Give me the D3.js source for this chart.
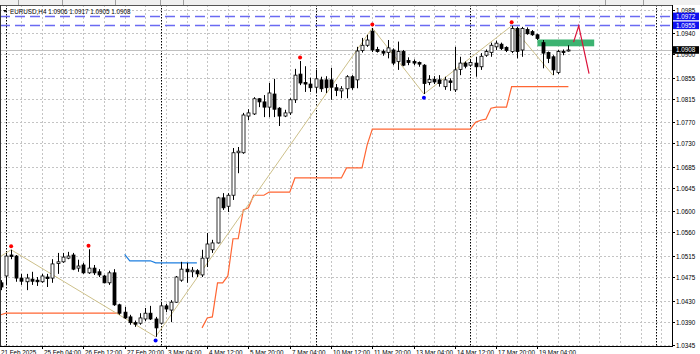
<!DOCTYPE html>
<html><head><meta charset="utf-8">
<script src="https://cdn.jsdelivr.net/npm/d3@7"></script>
<style>html,body{margin:0;padding:0;background:#fff;overflow:hidden}</style>
</head><body>
<svg id="c" width="700" height="354"></svg>
<script>
const symbolTitle = "EURUSD,H4";
const lastOHLC = ["1.0906","1.0917","1.0905","1.0908"];
const bidPrice = 1.0908;

const opens = [1.0464,1.0477,1.0517,1.0515,1.0473,1.0466,1.0471,1.0469,1.0466,1.0475,
1.0473,1.0501,1.0504,1.0511,1.0517,1.0492,1.0498,1.0483,1.0492,1.0485,
1.0477,1.0464,1.0483,1.0422,1.0408,1.0399,1.0388,1.0387,1.0395,1.0406,
1.0395,1.0387,1.0420,1.0412,1.0427,1.0469,1.0490,1.0485,1.0487,1.0479,
1.0511,1.0527,1.0540,1.0626,1.0610,1.0631,1.0712,1.0712,1.0782,1.0786,
1.0815,1.0809,1.0799,1.0824,1.0797,1.0782,1.0788,1.0813,1.0862,1.0846,
1.0843,1.0837,1.0851,1.0851,1.0851,1.0836,1.0830,1.0834,1.0857,1.0851,
1.0907,1.0917,1.0944,1.0909,1.0905,1.0903,1.0908,1.0886,1.0905,1.0888,
1.0886,1.0884,1.0879,1.0846,1.0852,1.0851,1.0838,1.0849,1.0832,1.0871,
1.0883,1.0879,1.0883,1.0876,1.0898,1.0903,1.0914,1.0919,1.0913,1.0905,
1.0949,1.0908,1.0947,1.0943,1.0937,1.0922,1.0903,1.0895,1.0865,1.0905,1.0906];
const highs = [1.0469,1.0521,1.0527,1.0517,1.0481,1.0481,1.0485,1.0475,1.0481,1.0481,
1.0509,1.0521,1.0521,1.0523,1.0521,1.0508,1.0502,1.0528,1.0498,1.0490,
1.0479,1.0487,1.0490,1.0424,1.0418,1.0403,1.0392,1.0406,1.0416,1.0420,
1.0399,1.0426,1.0424,1.0431,1.0477,1.0504,1.0502,1.0494,1.0490,1.0527,
1.0559,1.0546,1.0628,1.0635,1.0635,1.0721,1.0723,1.0788,1.0795,1.0818,
1.0816,1.0822,1.0845,1.0853,1.0799,1.0794,1.0816,1.0872,1.0887,1.0877,
1.0855,1.0870,1.0857,1.0858,1.0874,1.0843,1.0839,1.0860,1.0860,1.0914,
1.0931,1.0937,1.0950,1.0914,1.0909,1.0927,1.0911,1.0924,1.0908,1.0894,
1.0890,1.0886,1.0881,1.0860,1.0858,1.0860,1.0857,1.0854,1.0914,1.0895,
1.0886,1.0889,1.0895,1.0902,1.0909,1.0922,1.0926,1.0922,1.0915,1.0954,
1.0952,1.0952,1.0951,1.0946,1.0939,1.0927,1.0905,1.0898,1.0908,1.0909,1.0917];
const lows = [1.0450,1.0460,1.0509,1.0466,1.0460,1.0450,1.0460,1.0458,1.0464,1.0456,
1.0464,1.0481,1.0502,1.0509,1.0488,1.0485,1.0481,1.0481,1.0479,1.0475,
1.0463,1.0460,1.0420,1.0403,1.0395,1.0384,1.0380,1.0384,1.0391,1.0393,
1.0361,1.0385,1.0408,1.0389,1.0426,1.0466,1.0464,1.0475,1.0475,1.0475,
1.0494,1.0521,1.0539,1.0603,1.0599,1.0622,1.0673,1.0710,1.0774,1.0784,
1.0799,1.0780,1.0780,1.0780,1.0763,1.0780,1.0784,1.0807,1.0841,1.0828,
1.0828,1.0826,1.0828,1.0826,1.0813,1.0820,1.0816,1.0816,1.0832,1.0835,
1.0903,1.0914,1.0904,1.0903,1.0897,1.0892,1.0879,1.0870,1.0877,1.0879,
1.0879,1.0876,1.0824,1.0841,1.0843,1.0838,1.0832,1.0830,1.0828,1.0860,
1.0873,1.0876,1.0857,1.0870,1.0895,1.0895,1.0908,1.0908,1.0904,1.0902,
1.0892,1.0895,1.0937,1.0935,1.0927,1.0873,1.0883,1.0860,1.0862,1.0898,1.0905];
const closes = [1.0456,1.0515,1.0514,1.0473,1.0467,1.0473,1.0467,1.0466,1.0477,1.0472,
1.0500,1.0504,1.0513,1.0515,1.0490,1.0496,1.0483,1.0492,1.0483,1.0479,
1.0464,1.0483,1.0422,1.0406,1.0397,1.0388,1.0385,1.0397,1.0406,1.0395,
1.0378,1.0420,1.0414,1.0427,1.0475,1.0490,1.0485,1.0488,1.0481,1.0511,
1.0538,1.0540,1.0626,1.0607,1.0631,1.0712,1.0715,1.0784,1.0788,1.0815,
1.0809,1.0799,1.0826,1.0795,1.0782,1.0788,1.0813,1.0860,1.0845,1.0843,
1.0836,1.0853,1.0834,1.0836,1.0837,1.0831,1.0834,1.0857,1.0836,1.0906,
1.0917,1.0927,1.0908,1.0905,1.0902,1.0912,1.0883,1.0905,1.0879,1.0884,
1.0883,1.0881,1.0844,1.0852,1.0847,1.0844,1.0851,1.0846,1.0870,1.0883,
1.0877,1.0884,1.0876,1.0896,1.0905,1.0917,1.0921,1.0911,1.0907,1.0949,
1.0905,1.0949,1.0939,1.0937,1.0930,1.0902,1.0892,1.0870,1.0905,1.0903,1.0908];

const priceTicks = [1.0345,1.0390,1.0430,1.0475,1.0515,1.0560,1.0600,1.0645,1.0685,1.0730,1.0770,1.0815,1.0855,1.0900,1.0940,1.0985];
const timeLabels = ["21 Feb 2025","25 Feb 04:00","26 Feb 12:00","27 Feb 20:00","3 Mar 04:00","4 Mar 12:00","5 Mar 20:00","7 Mar 04:00","10 Mar 12:00","11 Mar 20:00","13 Mar 04:00","14 Mar 12:00","17 Mar 20:00","19 Mar 04:00"];
const timeLabelBars = [0,8,16,24,32,40,48,56,64,72,80,88,96,104];
const separatorBars = [1,31,61,91,127];

const zigzagBars = [-6,2,30,72,82,99,107];
const zigzagPrices = [1.0477,1.0527,1.0361,1.0950,1.0824,1.0954,1.0860];
const fractalUpBars = [2,17,58,72,99];
const fractalDownBars = [30,82];

const supportStart1 = 0;
const supportValues1 = [1.0403,1.0406,1.0406,1.0406,1.0406,1.0406,1.0406,1.0406,1.0406,1.0406,1.0406,1.0406,1.0406,1.0406,1.0406,1.0406,1.0406,1.0406,1.0406,1.0406,1.0406,1.0406,1.0406,1.0406];
const resistStart = 24;
const resistValues = [1.0518,1.0506,1.0506,1.0506,1.0506,1.0506,1.0502,1.0502,1.0502,1.0502,1.0502,1.0502,1.0502,1.0502,1.0502];
const supportStart2 = 39;
const supportValues2 = [1.0378,1.0397,1.0399,1.0464,1.0464,1.0477,1.0548,1.0548,1.0603,1.0607,1.0631,1.0631,1.0631,
1.0637,1.0637,1.0637,1.0637,1.0637,
1.0664,1.0664,1.0664,1.0664,1.0664,1.0664,1.0664,1.0664,1.0664,1.0664,
1.0683,1.0683,1.0683,1.0683,1.0727,
1.0757,1.0757,1.0757,1.0757,1.0757,1.0757,1.0757,1.0757,1.0757,1.0757,1.0757,1.0757,1.0757,1.0757,1.0757,1.0757,1.0757,1.0757,1.0757,1.0757,
1.0770,1.0774,1.0776,1.0797,1.0799,1.0799,1.0799,
1.0838,1.0838,1.0838,1.0838,1.0838,1.0838,1.0838,1.0838,1.0838,1.0838,1.0838,1.0838];

const hLinePrices = [1.0972,1.0955];
const rectBars = [104,115];
const rectPrices = [1.0915,1.0928];
const arrowBars = [111,112,114];
const arrowPrices = [1.0923,1.0954,1.0863];

const W = 700, H = 354;
const plotL = 0, plotR = 672, plotT = 5, plotB = 346;
const font = "'Liberation Sans', Arial, sans-serif";

const x = d3.scaleLinear().domain([0, 130]).range([0.8, 0.8 + 130*5.16]);
const y = d3.scaleLinear().domain([1.0345, 1.0985]).range([345.2, 9.6]);

const svg = d3.select("#c");
svg.append("rect").attr("width",W).attr("height",H).attr("fill","#fff");
svg.append("rect").attr("x",0).attr("y",0).attr("width",W).attr("height",5).attr("fill","#f0f0f0");
[18,62,115,160,183,605,643].forEach(v=>svg.append("line").attr("x1",v+0.5).attr("x2",v+0.5).attr("y1",0).attr("y2",5).attr("stroke","#a0a0a0"));

const defs = svg.append("defs");
defs.append("clipPath").attr("id","plot").append("rect").attr("x",plotL).attr("y",plotT).attr("width",plotR-plotL).attr("height",plotB-plotT);
const g = svg.append("g").attr("clip-path","url(#plot)");

priceTicks.forEach(p=>{
  const yy = Math.round(y(p))+0.5;
  g.append("line").attr("x1",plotL).attr("x2",plotR).attr("y1",yy).attr("y2",yy)
   .attr("stroke","#c4c4c4").attr("stroke-dasharray","2,2");
});
for(let k=4;k<=130;k+=4){
  const xx = Math.round(x(k))+0.5;
  g.append("line").attr("x1",xx).attr("x2",xx).attr("y1",plotT).attr("y2",plotB)
   .attr("stroke","#c4c4c4").attr("stroke-dasharray","2,2");
}
separatorBars.forEach(k=>{
  const xx = Math.round(x(k))+0.5;
  g.append("line").attr("x1",xx).attr("x2",xx).attr("y1",plotT).attr("y2",plotB)
   .attr("stroke","#000").attr("stroke-dasharray","1.5,1.5");
});
g.append("line").attr("x1",plotL).attr("x2",plotR).attr("y1",Math.round(y(bidPrice))+0.5).attr("y2",Math.round(y(bidPrice))+0.5).attr("stroke","#c0c0c0");
hLinePrices.forEach(p=>{
  const yy = Math.round(y(p))+0.5;
  g.append("line").attr("x1",plotL).attr("x2",plotR).attr("y1",yy).attr("y2",yy)
   .attr("stroke","#6a6af2").attr("stroke-width",1.3).attr("stroke-dasharray","10,5");
});
g.append("rect").attr("x",x(rectBars[0])).attr("width",x(rectBars[1])-x(rectBars[0]))
 .attr("y",y(rectPrices[1])).attr("height",y(rectPrices[0])-y(rectPrices[1])).attr("fill","#3cb371");

const lineGen = d3.line().x(d=>x(d[0])).y(d=>y(d[1]));
const s1 = supportValues1.map((v,i)=>[supportStart1+i,v]);
const r1 = resistValues.map((v,i)=>[resistStart+i,v]);
const s2 = supportValues2.map((v,i)=>[supportStart2+i,v]);
g.append("path").attr("d",lineGen(s1)).attr("fill","none").attr("stroke","#ff6633").attr("stroke-width",1.2);
g.append("path").attr("d",lineGen(s2)).attr("fill","none").attr("stroke","#ff6633").attr("stroke-width",1.2);
g.append("path").attr("d",lineGen(r1)).attr("fill","none").attr("stroke","#1e7fe0").attr("stroke-width",1.2);

const zz = zigzagBars.map((b,i)=>[b,zigzagPrices[i]]);
g.append("path").attr("d",lineGen(zz)).attr("fill","none").attr("stroke","#cdc08a").attr("stroke-width",1);

const bars = d3.range(opens.length).map(i=>({i,o:opens[i],h:highs[i],l:lows[i],c:closes[i]}));
const cg = g.append("g");
bars.forEach(b=>{
  const cx = Math.round(x(b.i))+0.5;
  cg.append("line").attr("x1",cx).attr("x2",cx).attr("y1",y(b.h)).attr("y2",y(b.l)).attr("stroke","#000");
  const top = y(Math.max(b.o,b.c)), bot = y(Math.min(b.o,b.c));
  const bull = b.c >= b.o;
  cg.append("rect").attr("x",cx-1.5).attr("width",3).attr("y",top).attr("height",Math.max(0.8,bot-top))
    .attr("fill",bull?"#fff":"#000").attr("stroke","#000").attr("stroke-width",0.8);
});

fractalUpBars.forEach(k=>{
  g.append("circle").attr("cx",x(k)).attr("cy",y(highs[k])-3.5).attr("r",2).attr("fill","#ff0000");
});
fractalDownBars.forEach(k=>{
  g.append("circle").attr("cx",x(k)).attr("cy",y(lows[k])+3.8).attr("r",2).attr("fill","#0000ff");
});

const ar = arrowBars.map((b,i)=>[b,arrowPrices[i]]);
g.append("path").attr("d",lineGen(ar)).attr("fill","none").attr("stroke","#dc143c").attr("stroke-width",1.2);

svg.append("line").attr("x1",0).attr("x2",plotR).attr("y1",plotT+0.5).attr("y2",plotT+0.5).attr("stroke","#555");
svg.append("line").attr("x1",0.5).attr("x2",0.5).attr("y1",plotT).attr("y2",plotB).attr("stroke","#333");
svg.append("line").attr("x1",plotR+0.5).attr("x2",plotR+0.5).attr("y1",plotT).attr("y2",plotB+1).attr("stroke","#000");
svg.append("line").attr("x1",0).attr("x2",plotR+1).attr("y1",plotB+0.5).attr("y2",plotB+0.5).attr("stroke","#000");

priceTicks.forEach(p=>{
  const yy = Math.round(y(p))+0.5;
  svg.append("line").attr("x1",plotR).attr("x2",plotR+3).attr("y1",yy).attr("y2",yy).attr("stroke","#000");
  svg.append("text").attr("x",676).attr("y",yy+2.2).text(p.toFixed(4))
    .attr("font-family",font).attr("font-size",6.3).attr("fill","#000");
});
function priceBox(p, bg){
  const yy = y(p);
  svg.append("rect").attr("x",673).attr("y",yy-3.8).attr("width",26).attr("height",7.6).attr("fill",bg);
  svg.append("text").attr("x",676).attr("y",yy+2.3).text(p.toFixed(4))
    .attr("font-family",font).attr("font-size",6.3).attr("fill","#fff");
}
hLinePrices.forEach(p=>priceBox(p,"#1010f0"));
priceBox(bidPrice,"#000");

timeLabels.forEach((t,i)=>{
  const k = timeLabelBars[i];
  const xx = i===0 ? 1 : Math.round(x(k))+0.5;
  if(i>0) svg.append("line").attr("x1",xx).attr("x2",xx).attr("y1",plotB).attr("y2",plotB+3).attr("stroke","#000");
  svg.append("text").attr("x",xx+ (i===0?0:1.5)).attr("y",354.5).text(t)
    .attr("font-family",font).attr("font-size",6.3).attr("fill","#000");
});

svg.append("path").attr("d","M3,10 L7,10 L5,12.5 Z").attr("fill","#000");
svg.append("text").attr("x",10).attr("y",13.8)
  .text(symbolTitle+"  "+lastOHLC.join(" "))
  .attr("font-family",font).attr("font-size",6.3).attr("fill","#000");
</script>
</body></html>
